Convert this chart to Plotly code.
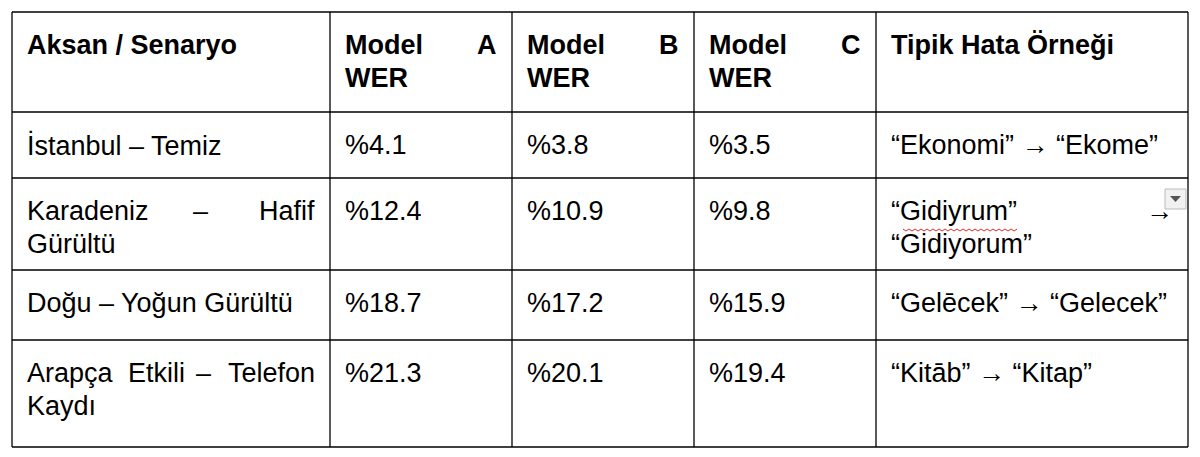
import plotly.graph_objects as go

headers = [["Aksan / Senaryo"], ["Model A", "WER"], ["Model B", "WER"], ["Model C", "WER"], ["Tipik Hata Örneği"]]
scenarios = [["İstanbul – Temiz"], ["Karadeniz – Hafif", "Gürültü"], ["Doğu – Yoğun Gürültü"], ["Arapça Etkili – Telefon", "Kaydı"]]
model_a = ["%4.1", "%12.4", "%18.7", "%21.3"]
model_b = ["%3.8", "%10.9", "%17.2", "%20.1"]
model_c = ["%3.5", "%9.8", "%15.9", "%19.4"]
examples = [["“Ekonomi” → “Ekome”"], ["“Gidiyrum” →", "“Gidiyorum”"], ["“Gelēcek” → “Gelecek”"], ["“Kitāb” → “Kitap”"]]

col_x = [12, 330, 512, 694, 876, 1188]
row_y = [12, 112, 178, 270, 340, 447]
pad = 13
line_h = 33
FONT = "Liberation Sans, Arial, sans-serif"
fs = 27

fig = go.Figure()
shapes = []
ann = []
for x in col_x:
    shapes.append(dict(type="line", x0=x, x1=x, y0=row_y[0], y1=row_y[-1], line=dict(color="black", width=1.3)))
for y in row_y:
    shapes.append(dict(type="line", x0=col_x[0], x1=col_x[-1], y0=y, y1=y, line=dict(color="black", width=1.3)))

def wlen(w):
    return sum(0.3 if ch in "iltI.,–'’“”" else 0.55 for ch in w) * fs

def cell(lines, c, r, bold=False):
    x0 = col_x[c] + pad
    x1 = col_x[c + 1] - pad
    y = row_y[r] + 33
    for i, ln in enumerate(lines):
        justify = len(lines) > 1 and i < len(lines) - 1
        words = ln.split(" ")
        if justify and len(words) > 1:
            n = len(words)
            widths = [wlen(w) for w in words]
            gap = ((x1 - x0) - sum(widths)) / (n - 1)
            cx = x0
            for k, w in enumerate(words):
                wt = f"<b>{w}</b>" if bold else w
                if k == 0:
                    xa, anc = x0, "left"
                elif k == n - 1:
                    xa, anc = x1, "right"
                else:
                    xa, anc = cx + widths[k] / 2, "center"
                ann.append(dict(x=xa, y=y, text=wt, xanchor=anc, yanchor="middle", showarrow=False,
                                font=dict(family=FONT, size=fs, color="black")))
                cx += widths[k] + gap
        else:
            t = f"<b>{ln}</b>" if bold else ln
            ann.append(dict(x=x0, y=y, text=t, xanchor="left", yanchor="middle", showarrow=False,
                            font=dict(family=FONT, size=fs, color="black")))
        y += line_h

for c, h in enumerate(headers):
    cell(h, c, 0, bold=True)
for r in range(4):
    cell(scenarios[r], 0, r + 1)
    cell([model_a[r]], 1, r + 1)
    cell([model_b[r]], 2, r + 1)
    cell([model_c[r]], 3, r + 1)
    cell(examples[r], 4, r + 1)

zz = "M 903 229"
for i in range(38):
    zz += f" L {903 + (i + 1) * 3} {229 + (2 if i % 2 == 0 else 0)}"
shapes.append(dict(type="path", path=zz, line=dict(color="#d93025", width=1)))
shapes.append(dict(type="rect", x0=1165, x1=1186, y0=189, y1=209, fillcolor="#f1f1f1", line=dict(color="#bbbbbb", width=1)))
shapes.append(dict(type="path", path="M 1170 196 L 1181 196 L 1175.5 202 Z", fillcolor="#555555", line=dict(width=0)))

fig.update_layout(width=1200, height=457, margin=dict(l=0, r=0, t=0, b=0),
                  paper_bgcolor="white", plot_bgcolor="white",
                  shapes=shapes, annotations=ann,
                  xaxis=dict(range=[8, 1208], visible=False, fixedrange=True),
                  yaxis=dict(range=[465, 8], visible=False, fixedrange=True),
                  showlegend=False)
fig.write_html("out.html")
